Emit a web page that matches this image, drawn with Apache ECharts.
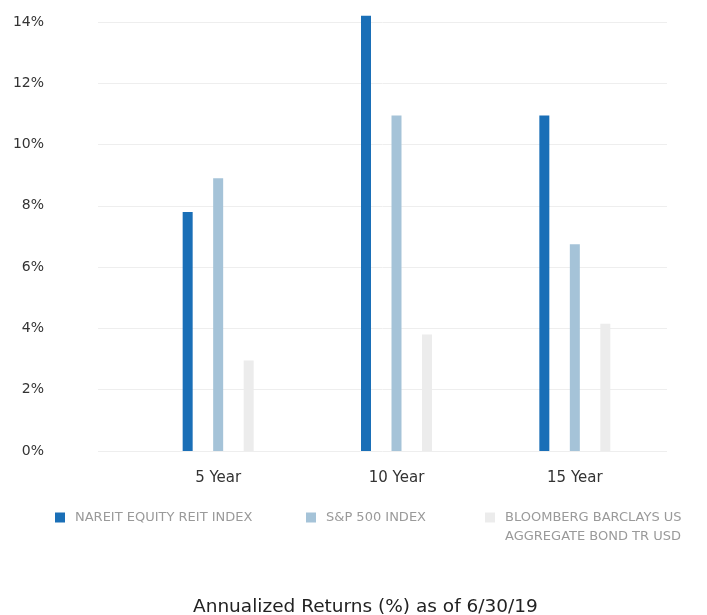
<!DOCTYPE html>
<html>
<head>
<meta charset="utf-8">
<script src="https://cdn.jsdelivr.net/npm/echarts@6/dist/echarts.min.js"></script>
<style>
  html, body { margin: 0; padding: 0; background: #ffffff; }
  #chart { width: 707px; height: 615px; }
</style>
</head>
<body>
<div id="chart"></div>
<script>
const categories = ['5 Year', '10 Year', '15 Year'];
const reitValues = [7.8, 14.2, 10.95];
const spValues = [8.9, 10.95, 6.75];
const bondValues = [2.95, 3.8, 4.15];
const yTicks = [0, 2, 4, 6, 8, 10, 12, 14];

const font = '"DejaVu Sans", "Noto Sans", sans-serif';
const legendText = { fontFamily: font, fontSize: 13, color: '#9a9a9a', padding: [0, 0, 0, 5] };

const chart = echarts.init(document.getElementById('chart'));

const option = {
  animation: false,
  title: {
    text: 'Annualized Returns (%) as of 6/30/19',
    left: 188,
    top: 593,
    textStyle: { fontFamily: font, fontSize: 18.5, fontWeight: 'normal', color: '#222' }
  },
  legend: [
    {
      data: ['NAREIT EQUITY REIT INDEX'],
      left: 50, top: 506,
      itemWidth: 10, itemHeight: 10, icon: 'rect',
      textStyle: legendText
    },
    {
      data: ['S&P 500 INDEX'],
      left: 301, top: 506,
      itemWidth: 10, itemHeight: 10, icon: 'rect',
      textStyle: legendText
    },
    {
      data: ['BLOOMBERG BARCLAYS US'],
      left: 480, top: 506,
      itemWidth: 10, itemHeight: 10, icon: 'rect',
      textStyle: legendText
    }
  ],
  graphic: [
    {
      type: 'text',
      left: 505, top: 530,
      style: { text: 'AGGREGATE BOND TR USD', fontFamily: font, fontSize: 13, fill: '#9a9a9a' }
    }
  ],
  // grid 0 carries the y labels and gridlines, grid 1 the bars
  grid: [
    { left: 98, right: 40, top: 22, bottom: 164 },
    { left: 129, right: 43, top: 22, bottom: 164 }
  ],
  xAxis: [
    { gridIndex: 0, type: 'category', data: categories, show: false },
    {
      gridIndex: 1,
      type: 'category',
      data: categories,
      axisLine: { show: false },
      axisTick: { show: false },
      axisLabel: { fontFamily: font, fontSize: 15, color: '#333', margin: 20 }
    }
  ],
  yAxis: [
    {
      gridIndex: 0,
      type: 'value',
      min: yTicks[0],
      max: yTicks[yTicks.length - 1],
      interval: 2,
      axisLine: { show: false },
      axisTick: { show: false },
      axisLabel: { fontFamily: font, fontSize: 14, color: '#333', margin: 54, formatter: '{value}%' },
      splitLine: { lineStyle: { color: '#eeeeee', width: 1 } }
    },
    {
      gridIndex: 1,
      type: 'value',
      min: yTicks[0],
      max: yTicks[yTicks.length - 1],
      show: false
    }
  ],
  series: [
    {
      name: 'NAREIT EQUITY REIT INDEX',
      type: 'bar', xAxisIndex: 1, yAxisIndex: 1, clip: false,
      data: reitValues, barWidth: 10, barGap: '205%',
      itemStyle: { color: '#1a6fb7' }
    },
    {
      name: 'S&P 500 INDEX',
      type: 'bar', xAxisIndex: 1, yAxisIndex: 1, clip: false,
      data: spValues, barWidth: 10, barGap: '205%',
      itemStyle: { color: '#a5c3d8' }
    },
    {
      name: 'BLOOMBERG BARCLAYS US',
      type: 'bar', xAxisIndex: 1, yAxisIndex: 1, clip: false,
      data: bondValues, barWidth: 10, barGap: '205%',
      itemStyle: { color: '#ececec' }
    }
  ]
};

chart.setOption(option);
</script>
</body>
</html>
